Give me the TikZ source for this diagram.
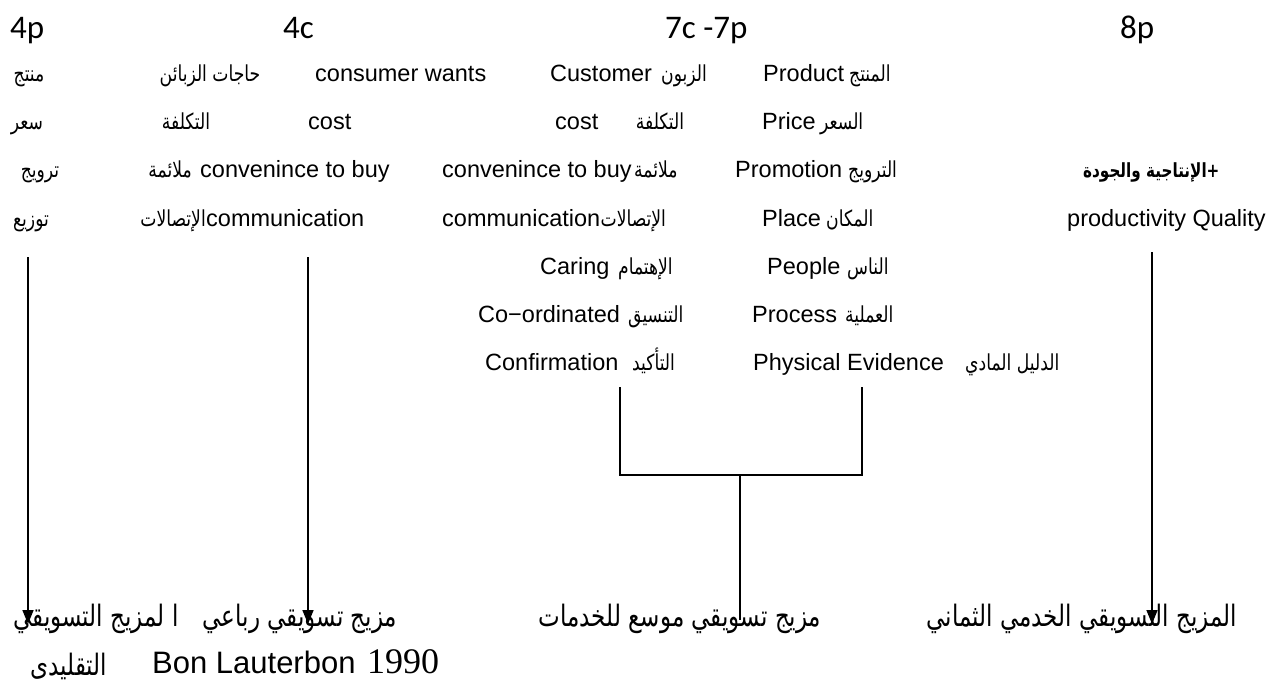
\documentclass[tikz,border=0pt]{standalone}
\usepackage{fontspec}
\setmainfont{Liberation Sans}
\newfontfamily\arabicfont[Script=Arabic,FakeStretch=0.78]{DejaVu Sans}
\newfontfamily\headfont{Carlito}
\newfontfamily\numfont{Liberation Serif}
\TeXXeTstate=1
\usetikzlibrary{arrows.meta}
\newcommand{\rl}[1]{\beginR#1\endR}
\tikzset{
  en/.style={font=\fontsize{23.5}{27}\selectfont, inner sep=0pt, anchor=base west},
  ar/.style={font=\arabicfont\fontsize{22}{26}\selectfont, inner sep=0pt, anchor=base},
  arw/.style={ar, anchor=base west},
  are/.style={ar, anchor=base east},
  captxt/.style={font=\arabicfont\fontsize{29.5}{34}\selectfont, inner sep=0pt, anchor=base},
  hd/.style={font=\headfont\fontsize{33}{37}\selectfont, inner sep=0pt, anchor=base west},
  conn/.style={line width=1.6pt},
  arrowline/.style={conn, -{Triangle[length=14pt,width=11pt]}},
}
\begin{document}
\begin{tikzpicture}[x=1pt,y=-1pt]
\useasboundingbox (0,0) rectangle (1282,686);
\fill[white] (0,0) rectangle (1282,686);

% column headings
\node[hd] (h4p) at (10,38) {4p};
\node[hd] (h4c) at (283,38) {4c};
\node[hd] (h7) at (665,38) {7c -7p};
\node[hd] (h8p) at (1120,38) {8p};

% row 1
\node[ar] (a1) at (29,81) {\rl{منتج}};
\node[ar] (b1a) at (210,81) {\rl{حاجات الزبائن}};
\node[en] (b1e) at (315,81) {consumer wants};
\node[en] (c1e) at (550,81) {Customer};
\node[ar] (c1a) at (684,81) {\rl{الزبون}};
\node[en] (d1e) at (763,81) {Product};
\node[arw] (d1a) at (849,81) {\rl{المنتج}};

% row 2
\node[ar] (a2) at (27,129) {\rl{سعر}};
\node[ar] (b2a) at (186,129) {\rl{التكلفة}};
\node[en] (b2e) at (308,129) {cost};
\node[en] (c2e) at (555,129) {cost};
\node[ar] (c2a) at (660,129) {\rl{التكلفة}};
\node[en] (d2e) at (762,129) {Price};
\node[arw] (d2a) at (820,129) {\rl{السعر}};

% row 3
\node[ar] (a3) at (40,177) {\rl{ترويج}};
\node[are] (b3a) at (192,177) {\rl{ملائمة}};
\node[en] (b3e) at (200,177) {convenince to buy};
\node[en] (c3e) at (442,177) {convenince to buy};
\node[arw] (c3a) at (634,177) {\rl{ملائمة}};
\node[en] (d3e) at (735,177) {Promotion};
\node[arw] (d3a) at (848,177) {\rl{الترويج}};
\node[arw, font=\arabicfont\bfseries\fontsize{19.5}{23}\selectfont] (e3) at (1083,177) {\rl{الإنتاجية والجودة}+};

% row 4
\node[ar] (a4) at (31,226) {\rl{توزيع}};
\node[are] (b4a) at (206,226) {\rl{الإتصالات}};
\node[en] (b4e) at (206,226) {communication};
\node[en] (c4e) at (442,226) {communication};
\node[arw] (c4a) at (c4e.base east) {\rl{الإتصالات}};
\node[en] (d4e) at (762,226) {Place};
\node[arw] (d4a) at (826,226) {\rl{المكان}};
\node[en] (e4) at (1067,226) {productivity Quality};

% row 5
\node[en] (c5e) at (540,274) {Caring};
\node[arw] (c5a) at (618,274) {\rl{الإهتمام}};
\node[en] (d5e) at (767,274) {People};
\node[arw] (d5a) at (847,274) {\rl{الناس}};

% row 6
\node[en] (c6e) at (478,322) {Co−ordinated};
\node[arw] (c6a) at (628,322) {\rl{التنسيق}};
\node[en] (d6e) at (752,322) {Process};
\node[arw] (d6a) at (845,322) {\rl{العملية}};

% row 7
\node[en] (c7e) at (485,370) {Confirmation};
\node[arw] (c7a) at (632,370) {\rl{التأكيد}};
\node[en] (d7e) at (753,370) {Physical Evidence};
\node[arw] (d7a) at (965,370) {\rl{الدليل المادي}};

% captions under the columns
\node[captxt] (capA) at (96,626) {\rl{ا لمزيج التسويقي}};
\node[captxt] (capA2) at (69,675) {\rl{التقليدى}};
\node[captxt] (capB) at (300,626) {\rl{مزيج تسويقي رباعي}};
\node[en, font=\fontsize{31}{35}\selectfont] (capB2) at (152,673) {Bon Lauterbon};
\node[en, font=\numfont\fontsize{36}{40}\selectfont] (capB3) at (367,673) {1990};
\node[captxt] (capC) at (680,626) {\rl{مزيج تسويقي موسع للخدمات}};
\node[captxt] (capD) at (1082,626) {\rl{المزيج التسويقي الخدمي الثماني}};

% connector end points
\coordinate (p4top) at (28,257);
\coordinate (p4tip) at (28,624);
\coordinate (c4top) at (308,257);
\coordinate (c4tip) at (308,624);
\coordinate (p8top) at (1152,252);
\coordinate (p8tip) at (1152,624);
\coordinate (brL) at (620,387);
\coordinate (brR) at (862,387);
\coordinate (brMid) at (740,475);
\coordinate (brEnd) at (740,620);

% connectors
\draw[arrowline] (p4top) -- (p4tip);
\draw[arrowline] (c4top) -- (c4tip);
\draw[arrowline] (p8top) -- (p8tip);
\draw[conn] (brL) |- (brMid) -| (brR);
\draw[conn] (brMid) -- (brEnd);
\end{tikzpicture}
\end{document}
